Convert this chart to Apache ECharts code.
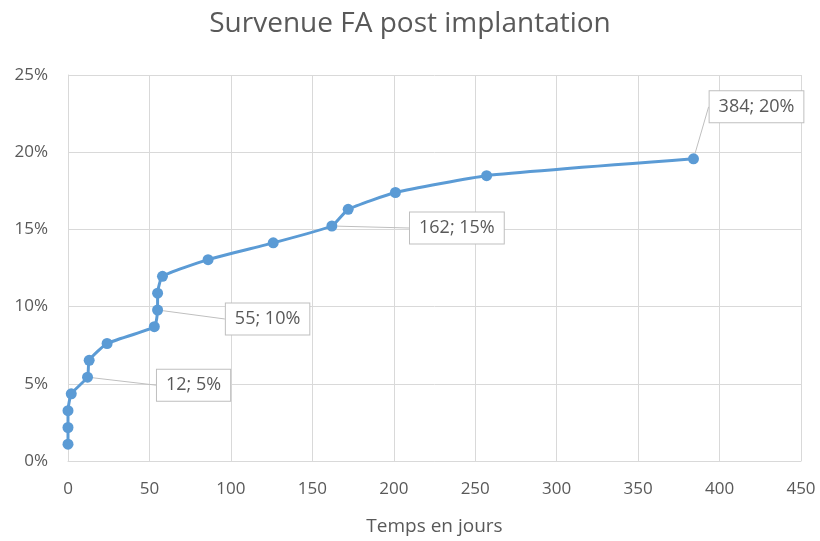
<!DOCTYPE html>
<html>
<head>
<meta charset="utf-8">
<script src="https://cdn.jsdelivr.net/npm/echarts@6/dist/echarts.min.js"></script>
<style>html,body{margin:0;padding:0;background:#fff}#c{width:820px;height:541px}</style>
</head>
<body>
<div id="c"></div>
<script>
const titleText = "Survenue FA post implantation";
const xAxisName = "Temps en jours";
const days = [0, 0, 0, 2, 12, 13, 24, 53, 55, 55, 58, 86, 126, 162, 172, 201, 257, 384];
const pct  = [1.09, 2.17, 3.26, 4.35, 5.43, 6.52, 7.61, 8.70, 9.78, 10.87, 11.96, 13.04, 14.13, 15.22, 16.30, 17.39, 18.48, 19.57];
const labelledIdx = [4, 8, 13, 17];
const labelOffsets = {4: [106, 8], 8: [110, 9], 13: [125, 2], 17: [63, -52]};

const font = "'Open Sans', sans-serif";
const txt = '#595959';
const grid = '#d9d9d9';

const data = days.map((d, i) => ({
  value: [d, pct[i]],
  label: { show: labelledIdx.includes(i) }
}));

const chart = echarts.init(document.getElementById('c'), null, {renderer: 'canvas'});
chart.setOption({
  animation: false,
  title: {
    text: titleText, left: 'center', top: 5,
    textStyle: {fontFamily: font, fontSize: 28, fontWeight: 'normal', color: txt}
  },
  grid: {left: 68, right: 19, top: 75, bottom: 75, containLabel: false},
  xAxis: {
    type: 'value', min: 0, max: 450, interval: 50,
    name: xAxisName, nameLocation: 'middle', nameGap: 56,
    nameTextStyle: {fontFamily: font, fontSize: 19, color: txt},
    axisLine: {show: true, lineStyle: {color: grid}},
    axisTick: {show: false},
    axisLabel: {fontFamily: font, fontSize: 17, color: txt, margin: 20},
    splitLine: {show: true, lineStyle: {color: grid, width: 1}}
  },
  yAxis: {
    type: 'value', min: 0, max: 25, interval: 5,
    axisLine: {show: true, lineStyle: {color: grid}},
    axisTick: {show: false},
    axisLabel: {fontFamily: font, fontSize: 17, color: txt, margin: 20, formatter: '{value}%'},
    splitLine: {show: true, lineStyle: {color: grid, width: 1}}
  },
  series: [{
    type: 'line',
    data: data,
    smooth: 0.15,
    symbol: 'circle',
    symbolSize: 11,
    lineStyle: {color: '#5b9bd5', width: 3},
    itemStyle: {color: '#5b9bd5'},
    label: {
      position: 'inside',
      fontFamily: font, fontSize: 18, color: txt,
      backgroundColor: '#fff', borderColor: '#bfbfbf', borderWidth: 1,
      padding: [7, 9, 6, 9],
      formatter: p => p.value[0] + '; ' + Math.round(p.value[1]) + '%'
    },
    labelLine: {show: true, lineStyle: {color: '#bfbfbf', width: 1}},
    labelLayout: p => {
      const o = labelOffsets[p.dataIndex];
      return o ? {dx: o[0], dy: o[1]} : {};
    },
    emphasis: {disabled: true}
  }]
});
</script>
</body>
</html>
